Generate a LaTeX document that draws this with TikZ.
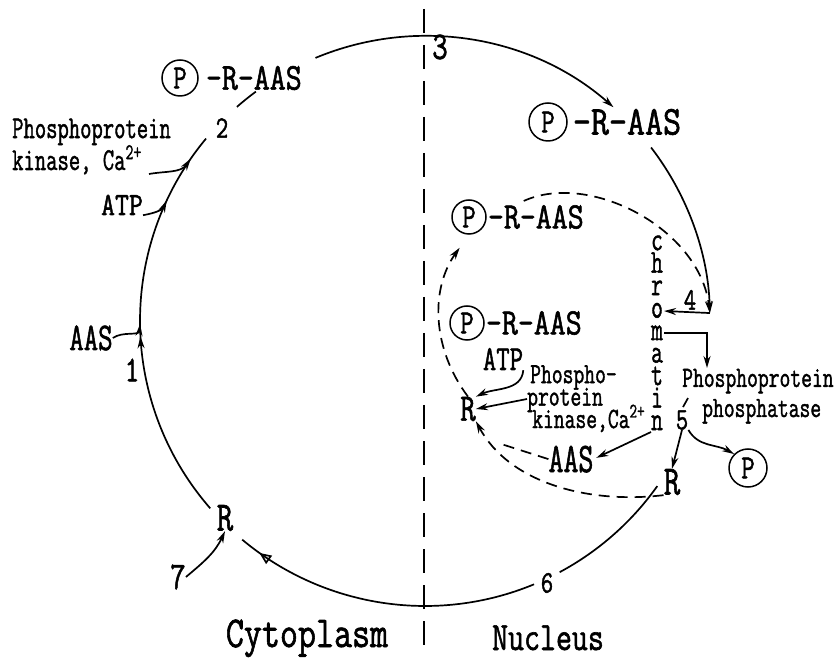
\documentclass[tikz,border=0pt]{standalone}
\usepackage{fontspec}
\setmonofont{Latin Modern Mono}[FakeBold=1.6]
\usepackage{graphicx}
\usetikzlibrary{arrows.meta,calc,decorations.markings}
\newcommand{\vs}[2][1.3]{\scalebox{1}[#1]{#2}}
\newcommand{\stk}[2]{\vbox{\baselineskip=#1\lineskiplimit=-99pt\lineskip=0pt #2}}
\begin{document}
\begin{tikzpicture}[x=1pt,y=1pt,
  every node/.style={inner sep=0pt},
  fs/.style={font=\ttfamily\fontsize{#1}{#1}\selectfont},
  ln/.style={line width=1.7pt},
  arr/.style={-{Stealth[length=12pt,width=7pt]}},
  dsh/.style={line width=1.7pt, dash pattern=on 11pt off 7pt},
  pc/.style={circle, draw, line width=1.5pt, minimum size=#1, font=\ttfamily\fontsize{26}{26}\selectfont},
  midarr/.style={postaction={decorate}, decoration={markings, mark=at position #1 with {\arrow{Stealth[length=12pt,width=7pt]}}}},
  opentri/.style={postaction={decorate}, decoration={markings, mark=at position #1 with {\arrow{Triangle[open,length=12pt,width=10pt]}}}},
]
\useasboundingbox (0,0) rectangle (840,659);

% divider
\coordinate (dtop) at (424,650);
\coordinate (dbot) at (424,10);
\draw[line width=1.8pt, dash pattern=on 24pt off 12pt] (dtop) -- (dbot);

% big circle points
\coordinate (O) at (425,338);
\foreach \a/\n in {221.1/a221, 180.6/a180, 155.0/a155, 145.3/a145, 131.3/a131, 112.6/a112, 37.5/a37, 1.6/a1, -35.4/am35, -67.5/am67}
  \path (O) ++(\a:285) coordinate (\n);

% labels on the outer cycle
\node[pc=36pt] (ptl) at (180,581) {\vs{P}};
\node[fs=31, anchor=west] (rtl) at ($(ptl.east)+(7,0)$) {\vs[1.22]{-R-AAS}};
\node[pc=38pt] (ptr) at (548,537) {\vs{P}};
\node[fs=35, anchor=west] (rtr) at ($(ptr.east)+(5,0)$) {\vs[1.17]{-R-AAS}};

\node[fs=22, anchor=base west] (kl) at (12,489) {\vs[1.45]{\stk{22pt}{\hbox{Phosphoprotein}\hbox{kinase, Ca\textsuperscript{2+}}}}};
\node[fs=27, anchor=base] (atpl) at (122,444) {\vs[1.2]{ATP}};
\node[fs=28, anchor=base] (aasl) at (91,309) {\vs[1.4]{AAS}};

\node[fs=28] (n1) at (132,289) {\vs{1}};
\node[fs=24] (n2) at (222,531) {\vs{2}};
\node[fs=30] (n3) at (440,612) {\vs{3}};
\node[fs=24] (n4) at (690,359) {\vs{4}};
\node[fs=24] (n5) at (682,239) {\vs{5}};
\node[fs=24] (n6) at (547,76) {\vs{6}};
\node[fs=30] (n7) at (178,82) {\vs{7}};

\node[fs=32] (ro) at (225,141) {\vs{R}};
\node[fs=30] (rl) at (468,250) {\vs{R}};
\node[fs=32] (rr) at (672,177) {\vs{R}};

\node[fs=35, anchor=base] (cyto) at (307,12) {\vs[1.26]{Cytoplasm}};
\node[fs=31, anchor=base] (nucl) at (548,9) {\vs[1.3]{Nucleus}};

% inner labels
\node[pc=34pt] (piu) at (469,442) {\vs{P}};
\node[fs=31, anchor=west] (riu) at ($(piu.east)+(1,0)$) {\vs[1.2]{-R-AAS}};
\node[pc=34pt] (pil) at (467,336) {\vs{P}};
\node[fs=31, anchor=west] (ril) at ($(pil.east)+(1,0)$) {\vs[1.2]{-R-AAS}};
\node[pc=38pt] (pf) at (748,191) {\vs{P}};

\node[fs=26, anchor=base] (atpi) at (503,289) {\vs[1.35]{ATP}};
\node[fs=21, anchor=base west] (ki) at (527,231) {\vs[1.4]{\stk{16pt}{\hbox{\hspace{3pt}Phospho-}\hbox{protein}\hbox{\hspace{5pt}kinase,Ca\textsuperscript{2+}}}}};
\node[fs=29, anchor=base] (aasi) at (571,187) {\vs[1.45]{AAS}};
\node[fs=21, anchor=base west] (ph) at (682,242) {\vs[1.4]{\stk{21.5pt}{\hbox{Phosphoprotein}\hbox{\hspace{20pt}phosphatase}}}};

\node[fs=23, anchor=base] (chrom) at (657,229) {\vs[1.45]{\stk{15.5pt}{\hbox{c}\hbox{h}\hbox{r}\hbox{o}\hbox{m}\hbox{a}\hbox{t}\hbox{i}\hbox{n}}}};
\coordinate (cho) at ($(chrom.base)+(7,119)$);
\coordinate (chm) at ($(chrom.base)+(7,97)$);
\coordinate (chn) at ($(chrom.base)+(-6,-2)$);
\coordinate (kip) at ($(ki.base west)+(0,29)$);
\coordinate (phn) at ($(ph.base west)+(25,49)$);
\coordinate (klk) at ($(kl.base west)+(137,-4)$);

% outer cycle arcs
\draw[ln, midarr=0.47] (a221) arc[start angle=221.1, end angle=140.2, radius=285];
\draw[ln] (a131) arc[start angle=131.3, end angle=126.4, radius=285];
\draw[ln, arr] (a112) arc[start angle=112.6, end angle=48.6, radius=285];
\draw[ln, arr] (a37) arc[start angle=37.5, end angle=1.6, radius=285];
\draw[ln] (am35) arc[start angle=-35.4, end angle=-61.8, radius=285];
\draw[ln, opentri=0.93] (am67) arc[start angle=-67.5, end angle=-129.9, radius=285];

% incoming arrows on the left
\draw[ln, arr] (aasl.east) to[out=35,in=-95] (a180);
\draw[ln, arr] (atpl.south east) to[out=10,in=-115] (a155);
\draw[ln, arr] (klk) to[out=10,in=-125] (a145);
\draw[ln, arr] (n7.east) to[out=40,in=-115] (ro.south);

% chromatin arrows
\draw[ln, arr] (a1) -- (cho);
\draw[ln, arr] (chm) -| (phn);
\draw[ln, arr, shorten >=3pt] (chn) -- (aasi.east);

% phosphatase step
\draw[ln] ($(n5.north)+(6,12)$) -- ($(n5.north)+(1,3)$);
\draw[ln, arr] (n5.south) -- (rr.north);
\draw[ln, arr] (n5.south east) to[out=-60,in=150] (pf.north west);

% inner kinase step
\draw[ln, arr] (atpi.south east) to[out=-95,in=25] (rl.north east);
\draw[ln, arr] (kip) -- (rl.east);

% inner dashed cycle
\draw[dsh, arr] ($(riu.north west)+(36,4)$) .. controls (590,488) and (700,430) .. (a1);
\draw[dsh, arr, shorten >=16pt] (rl.north) .. controls (432,310) and (430,370) .. (piu.south);
\draw[dsh, arr] (rr.south west) .. controls (590,155) and (510,175) .. (rl.south east);
\coordinate (jn) at (498,216);
\draw[dsh] (aasi.west) -- (jn);
\end{tikzpicture}
\end{document}
